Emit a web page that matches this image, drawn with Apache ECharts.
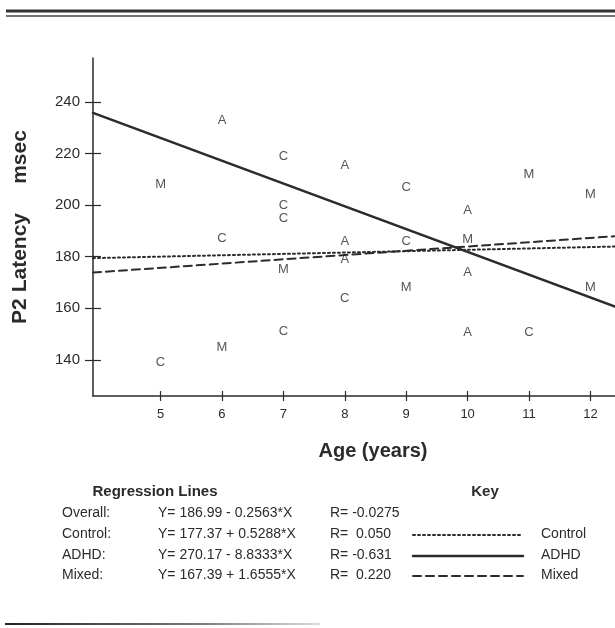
<!DOCTYPE html>
<html>
<head>
<meta charset="utf-8">
<title>P2 Latency by Age</title>
<script src="https://cdn.jsdelivr.net/npm/echarts@6/dist/echarts.min.js"></script>
<style>
  html, body { margin: 0; padding: 0; background: #fff; }
  #chart { width: 615px; height: 628px; }
</style>
</head>
<body>
<div id="chart"></div>
<script>
const FONT = '"Liberation Sans", Arial, sans-serif'
const INK = '#2b2b2b'

// axis ticks
const ageTicks = [5, 6, 7, 8, 9, 10, 11, 12]
const latencyTicks = [140, 160, 180, 200, 220, 240]
const ageMin = 3.9
const ageMax = 12.4
const latMin = 126
const latMax = 257

// subjects, [age, P2 latency msec]
const controlPoints = [[5, 139], [6, 187], [7, 219], [7, 200], [7, 195], [7, 151], [8, 164], [9, 207], [9, 186], [11, 150.5]]
const adhdPoints = [[6, 233], [8, 215.5], [8, 186], [8, 179], [10, 198], [10, 174], [10, 150.5]]
const mixedPoints = [[5, 208], [6, 145], [7, 175], [9, 168], [10, 186.5], [11, 212], [12, 204], [12, 168]]

// regression lines (Overall, Control, ADHD, Mixed)
const groupNames = ['Overall', 'Control', 'ADHD', 'Mixed']
const intercepts = [186.99, 177.37, 270.17, 167.39]
const slopes = [-0.2563, 0.5288, -8.8333, 1.6555]
const rValues = ['-0.0275', ' 0.050', '-0.631', ' 0.220']
const lineTypes = [null, [2, 3], 'solid', [8, 5]]
const lineWidths = [0, 2, 2.5, 2]

function regLine(i) {
  return [ageMin, ageMax].map(x => [x, intercepts[i] + slopes[i] * x])
}

function eqText(i) {
  const s = slopes[i]
  return 'Y= ' + intercepts[i].toFixed(2) + (s < 0 ? ' - ' : ' + ') + Math.abs(s).toFixed(4) + '*X'
}

function letters(name, letter, data) {
  return {
    name: name,
    type: 'scatter',
    data: data,
    symbolSize: 2,
    itemStyle: { color: 'rgba(0,0,0,0)' },
    label: { show: true, position: 'inside', formatter: letter, fontSize: 13, color: INK, fontFamily: FONT },
    z: 4
  }
}

const series = [
  letters('Control', 'C', controlPoints),
  letters('ADHD', 'A', adhdPoints),
  letters('Mixed', 'M', mixedPoints)
]
for (let i = 1; i < groupNames.length; i++) {
  series.push({
    name: groupNames[i] + ' fit',
    type: 'line',
    data: regLine(i),
    symbol: 'none',
    lineStyle: { color: INK, width: lineWidths[i], type: lineTypes[i], cap: 'round' },
    z: 3
  })
}

// bottom table
const col1 = 62, col2 = 158, col3 = 330, keyX0 = 413, keyX1 = 523, col5 = 541
const rowY = [513, 534, 555, 575]
const tableGraphic = []
const txt = (x, y, text, extra) => ({
  type: 'text', x: x, y: y,
  style: Object.assign({ text: text, fill: INK, font: '14px ' + FONT, textVerticalAlign: 'middle' }, extra || {})
})
tableGraphic.push(txt(155, 492, 'Regression Lines', { font: 'bold 15px ' + FONT, textAlign: 'center' }))
tableGraphic.push(txt(485, 492, 'Key', { font: 'bold 15px ' + FONT, textAlign: 'center' }))
groupNames.forEach((g, i) => {
  tableGraphic.push(txt(col1, rowY[i], g + ':'))
  tableGraphic.push(txt(col2, rowY[i], eqText(i)))
  tableGraphic.push(txt(col3, rowY[i], 'R= ' + rValues[i]))
  if (i > 0) {
    tableGraphic.push({
      type: 'line',
      shape: { x1: keyX0, y1: rowY[i] + 1, x2: keyX1, y2: rowY[i] + 1 },
      style: { stroke: INK, lineWidth: lineWidths[i], lineDash: lineTypes[i] === 'solid' ? null : lineTypes[i], lineCap: 'round' }
    })
    tableGraphic.push(txt(col5, rowY[i], g))
  }
})

const chart = echarts.init(document.getElementById('chart'))
chart.setOption({
  animation: false,
  backgroundColor: '#fff',
  textStyle: { fontFamily: FONT },
  grid: { left: 93, right: 0, top: 58, height: 338 },
  xAxis: [
    {
      type: 'value', min: ageMin, max: ageMax, position: 'bottom',
      axisLine: { show: true, onZero: false, lineStyle: { color: INK, width: 1.5 } },
      axisTick: { show: true, customValues: ageTicks, length: 5, lineStyle: { color: INK, width: 1.2 } },
      axisLabel: { customValues: ageTicks, fontSize: 13, color: INK, margin: 12 },
      splitLine: { show: false }
    },
    {
      type: 'value', min: ageMin, max: ageMax, position: 'bottom',
      axisLine: { show: false },
      axisTick: { show: true, inside: true, customValues: ageTicks, length: 5, lineStyle: { color: INK, width: 1.2 } },
      axisLabel: { show: false },
      splitLine: { show: false }
    }
  ],
  yAxis: [
    {
      type: 'value', min: latMin, max: latMax, position: 'left',
      name: 'P2 Latency     msec', nameLocation: 'middle', nameGap: 62, nameRotate: 90,
      nameTextStyle: { fontSize: 21, fontWeight: 'bold', color: INK },
      axisLine: { show: true, onZero: false, lineStyle: { color: INK, width: 1.5 } },
      axisTick: { show: true, customValues: latencyTicks, length: 8, lineStyle: { color: INK, width: 1.2 } },
      axisLabel: { customValues: latencyTicks, fontSize: 15, color: INK, margin: 13 },
      splitLine: { show: false }
    },
    {
      type: 'value', min: latMin, max: latMax, position: 'left',
      axisLine: { show: false },
      axisTick: { show: true, inside: true, customValues: latencyTicks, length: 8, lineStyle: { color: INK, width: 1.2 } },
      axisLabel: { show: false },
      splitLine: { show: false }
    }
  ],
  series: series,
  graphic: [
    { type: 'line', shape: { x1: 6, y1: 11, x2: 615, y2: 11 }, style: { stroke: '#333', lineWidth: 3 } },
    { type: 'line', shape: { x1: 6, y1: 16, x2: 615, y2: 16 }, style: { stroke: '#444', lineWidth: 1.5 } },
    txt(373, 451, 'Age (years)', { font: 'bold 20px ' + FONT, textAlign: 'center' }),
    {
      type: 'line', shape: { x1: 5, y1: 624, x2: 320, y2: 624 },
      style: {
        lineWidth: 2,
        stroke: new echarts.graphic.LinearGradient(0, 0, 1, 0, [
          { offset: 0, color: '#222' }, { offset: 0.6, color: '#777' }, { offset: 1, color: '#ddd' }
        ])
      }
    }
  ].concat(tableGraphic)
})
</script>
</body>
</html>
